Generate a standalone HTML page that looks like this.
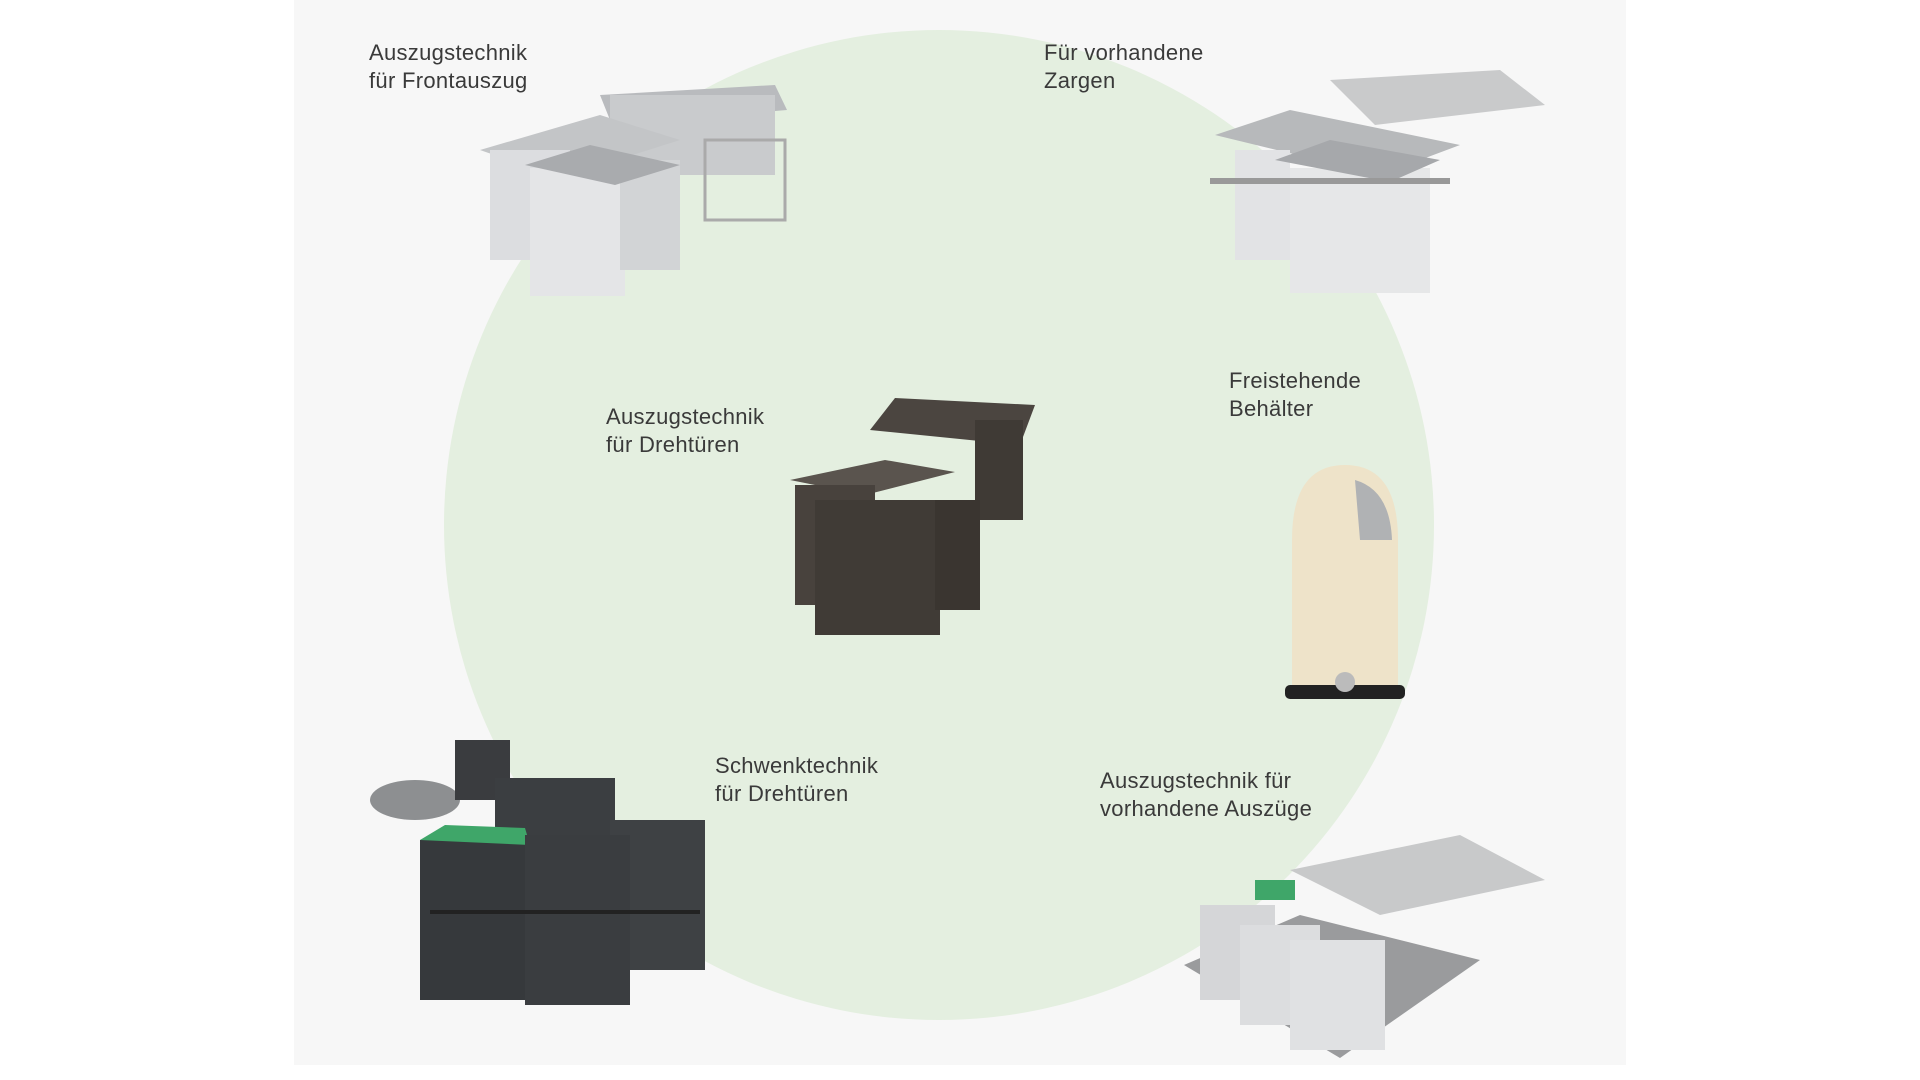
<!DOCTYPE html>
<html><head><meta charset="utf-8"><style>
html,body{margin:0;padding:0;width:1920px;height:1080px;overflow:hidden;background:#fff;font-family:"Liberation Sans",sans-serif;}
.panel{position:absolute;left:294px;top:0;width:1332px;height:1065px;background:#f7f7f7;}
.circ{position:absolute;left:444px;top:30px;width:990px;height:990px;border-radius:50%;background:#e4efe0;}
.t{position:absolute;font-size:22px;line-height:28px;color:#3a3a3a;letter-spacing:0.3px;}
svg{position:absolute;left:0;top:0;}
</style></head><body>
<div class="panel"></div>
<div class="circ"></div>
<div class="t" style="left:369px;top:39px">Auszugstechnik<br>für Frontauszug</div>
<div class="t" style="left:1044px;top:39px">Für vorhandene<br>Zargen</div>
<div class="t" style="left:606px;top:403px">Auszugstechnik<br>für Drehtüren</div>
<div class="t" style="left:1229px;top:367px">Freistehende<br>Behälter</div>
<div class="t" style="left:715px;top:752px">Schwenktechnik<br>für Drehtüren</div>
<div class="t" style="left:1100px;top:767px">Auszugstechnik für<br>vorhandene Auszüge</div>
<svg width="1920" height="1080">
<g>
<polygon points="600,95 775,85 787,110 612,125" fill="#b9bbbe"/>
<rect x="610" y="95" width="165" height="80" fill="#c9cbcd"/>
<polygon points="480,150 600,115 680,140 560,178" fill="#c3c5c7"/>
<rect x="490" y="150" width="80" height="110" fill="#dcdde0"/>
<rect x="530" y="168" width="95" height="128" fill="#e4e5e7"/>
<rect x="620" y="160" width="60" height="110" fill="#d2d4d6"/>
<polygon points="525,165 590,145 680,165 615,185" fill="#a9abae"/>
<rect x="705" y="140" width="80" height="80" fill="none" stroke="#aaa" stroke-width="3"/>
</g>
<g>
<polygon points="1330,80 1500,70 1545,105 1375,125" fill="#c9cacb"/>
<polygon points="1215,135 1290,110 1460,145 1380,175" fill="#b7b9bb"/>
<rect x="1235" y="150" width="55" height="110" fill="#e2e3e5"/>
<rect x="1290" y="168" width="140" height="125" fill="#e6e7e8"/>
<polygon points="1275,160 1330,140 1440,160 1390,182" fill="#a6a8ab"/>
<rect x="1210" y="178" width="240" height="6" fill="#999"/>
</g>
<g>
<polygon points="870,430 895,398 1035,405 1020,445" fill="#4b4540"/>
<rect x="975" y="420" width="48" height="100" fill="#3f3a35"/>
<polygon points="790,480 885,460 955,472 865,495" fill="#5a544e"/>
<rect x="795" y="485" width="80" height="120" fill="#48423d"/>
<rect x="815" y="500" width="125" height="135" fill="#403b36"/>
<rect x="935" y="500" width="45" height="110" fill="#3a3530"/>
</g>
<g>
<path d="M1292,690 L1292,540 Q1292,465 1345,465 Q1398,465 1398,540 L1398,690 Z" fill="#eee3c9"/>
<path d="M1355,480 Q1390,490 1392,540 L1360,540 Z" fill="#b0b2b4"/>
<rect x="1285" y="685" width="120" height="14" rx="5" fill="#222"/>
<circle cx="1345" cy="682" r="10" fill="#bbb"/>
</g>
<g>
<ellipse cx="415" cy="800" rx="45" ry="20" fill="#8d8f91"/>
<rect x="455" y="740" width="55" height="60" fill="#3a3c3f"/>
<rect x="495" y="778" width="120" height="120" fill="#3b3e41"/>
<rect x="610" y="820" width="95" height="150" fill="#3e4144"/>
<rect x="420" y="840" width="110" height="160" fill="#36393c"/>
<polygon points="420,840 445,825 525,828 530,845" fill="#3fa669"/>
<rect x="525" y="835" width="105" height="170" fill="#3a3d40"/>
<rect x="430" y="910" width="270" height="4" fill="#222"/>
</g>
<g>
<polygon points="1184,965 1300,915 1480,960 1340,1058" fill="#9a9b9d"/>
<polygon points="1290,870 1460,835 1545,880 1380,915" fill="#c8c9ca"/>
<rect x="1200" y="905" width="75" height="95" fill="#d5d6d8"/>
<rect x="1240" y="925" width="80" height="100" fill="#dcdddf"/>
<rect x="1290" y="940" width="95" height="110" fill="#e0e1e3"/>
<rect x="1255" y="880" width="40" height="20" fill="#3fa669"/>
</g>
</svg>
</body></html>
